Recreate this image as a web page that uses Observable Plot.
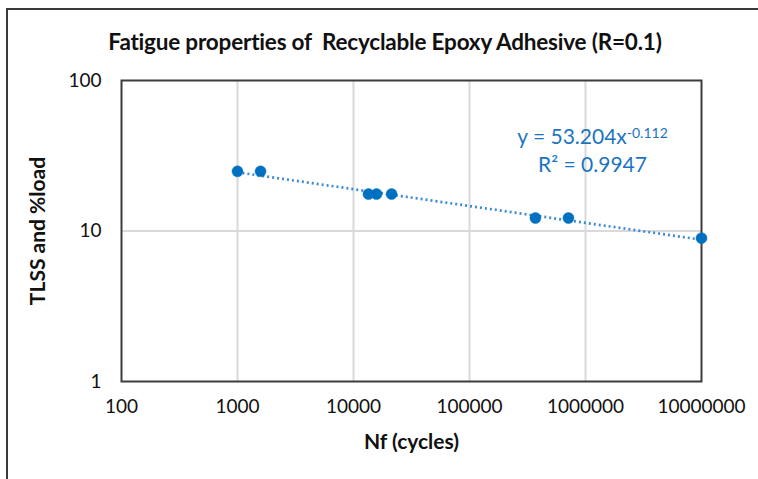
<!DOCTYPE html>
<html>
<head>
<meta charset="utf-8">
<script src="https://cdn.jsdelivr.net/npm/d3@7"></script>
<script src="https://cdn.jsdelivr.net/npm/@observablehq/plot@0.6"></script>
<style>
  html, body { margin: 0; padding: 0; background: #fff; overflow: hidden; }
  #wrap { position: relative; width: 758px; height: 479px; font-family: Lato, "Open Sans", sans-serif; }
  #border { position: absolute; left: 6px; top: 8px; width: 900px; height: 700px;
            border-left: 2px solid #3a3a3a; border-top: 2px solid #3a3a3a; box-sizing: border-box; }
  #title { position: relative; width: 770px; height: 60px; line-height: 22px; padding-top: 31px; box-sizing: border-box;
           text-align: center; font-weight: bold; font-size: 22.5px; color: #111; letter-spacing: -0.2px; white-space: nowrap; }
  #chart { position: relative; }
  #chart svg [aria-label="x-axis label"] text,
  #chart svg [aria-label="y-axis label"] text { font-weight: bold; font-size: 21px; fill: #111; }
</style>
</head>
<body>
<div id="wrap">
  <div id="border"></div>
  <div id="title">Fatigue properties of&nbsp; Recyclable Epoxy Adhesive (R=0.1)</div>
  <div id="chart"></div>
</div>
<script>
// Data
const cycles = [1000, 1580, 13450, 15800, 21300, 370000, 713000, 10000000];
const tlss   = [24.9, 24.9, 17.6, 17.6, 17.6, 12.2, 12.2, 8.96];
const xTicks = [100, 1000, 10000, 100000, 1000000, 10000000];
const yTicks = [1, 10, 100];
const xGrid = [1000, 10000, 100000, 1000000];
const yGrid = [10];
// Power-law trendline as stated on the chart
const fitCoef = 53.204;
const fitExp = -0.112;
const fitR2 = "0.9947";

const data = cycles.map((c, i) => ({nf: c, load: tlss[i]}));
const xExt = d3.extent(cycles);
const trend = xExt.map(x => ({nf: x, load: fitCoef * Math.pow(x, fitExp)}));

const blue = "#0070C0";
const chart = Plot.plot({
  width: 758,
  height: 419,
  marginLeft: 121,
  marginRight: 57,
  marginTop: 20,
  marginBottom: 98,
  style: {fontFamily: "Lato, 'Open Sans', sans-serif", fontSize: "19px", color: "#111", background: "transparent", overflow: "visible"},
  x: {type: "log", domain: [100, 10000000]},
  y: {type: "log", domain: [1, 100]},
  marks: [
    Plot.gridX(xGrid, {stroke: "#d9d9d9", strokeOpacity: 1, strokeWidth: 2}),
    Plot.gridY(yGrid, {stroke: "#d9d9d9", strokeOpacity: 1, strokeWidth: 2}),
    Plot.frame({stroke: "#3c3c3c", strokeWidth: 2}),
    Plot.axisX(xTicks, {tickSize: 0, tickPadding: 18, tickFormat: d3.format("d"),
      label: "Nf (cycles)", labelAnchor: "center", labelOffset: 67, labelArrow: "none"}),
    Plot.axisY(yTicks, {tickSize: 0, tickPadding: 20, tickFormat: d3.format("d"),
      label: "TLSS and %load", labelAnchor: "center", labelOffset: 91, labelArrow: "none"}),
    Plot.line(trend, {x: "nf", y: "load", stroke: "#3d8bd6", strokeWidth: 2.7, strokeDasharray: "2 3", strokeLinecap: "butt"}),
    Plot.dot(data, {x: "nf", y: "load", r: 5.5, fill: blue, stroke: blue, strokeWidth: 0.5}),
    Plot.text(["y = " + fitCoef + "x"], {frameAnchor: "top-right", dx: -109, dy: 57, textAnchor: "middle", lineAnchor: "middle", fill: "#1b74c2", fontSize: 21}),
    Plot.text(["R² = " + fitR2], {frameAnchor: "top-right", dx: -109, dy: 85, textAnchor: "middle", lineAnchor: "middle", fill: "#1b74c2", fontSize: 21})
  ]
});
document.getElementById("chart").appendChild(chart);

// add superscript exponent to the equation
d3.select(chart).selectAll("text").each(function() {
  if (this.textContent === "y = " + fitCoef + "x") {
    d3.select(this).append("tspan")
      .attr("dy", "-0.45em")
      .attr("font-size", "14px")
      .text(String(fitExp));
  }
});
</script>
</body>
</html>
